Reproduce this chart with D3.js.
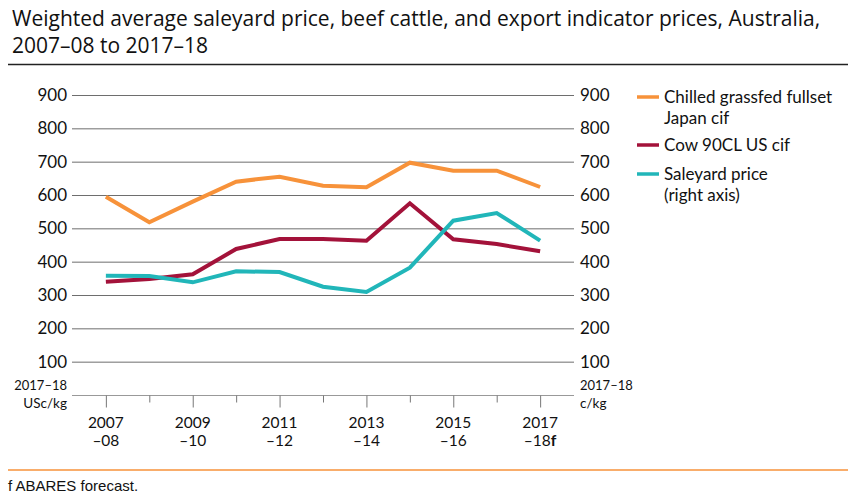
<!DOCTYPE html>
<html lang="en">
<head>
    <meta charset="utf-8">
    <title>Saleyard and export indicator prices</title>
    <style>
        body { margin: 0; background: #fff; }
        svg text { font-family: Lato, 'Open Sans', sans-serif; fill: #111; }
        .title { font-family: 'Liberation Sans Narrow', 'Open Sans', sans-serif; font-size: 21px; }
    </style>
    <script src="https://d3js.org/d3.v7.min.js" charset="utf-8"></script>
</head>
<body>
<svg id="chart" width="860" height="500"></svg>
<script type="text/javascript">
var years = ["2007\u201308", "2008\u201309", "2009\u201310", "2010\u201311", "2011\u201312", "2012\u201313",
             "2013\u201314", "2014\u201315", "2015\u201316", "2016\u201317", "2017\u201318"];
var japan = [595, 518, 580, 640, 655, 628, 623, 697, 673, 673, 624];
var cowUS = [340, 348, 362, 438, 468, 468, 463, 575, 467, 453, 431];
var saleyard = [358, 357, 338, 371, 369, 325, 309, 382, 523, 546, 463];
var yTicks = [100, 200, 300, 400, 500, 600, 700, 800, 900];
var tickTop = ["2007", "2009", "2011", "2013", "2015", "2017"];
var tickBottom = ["\u201308", "\u201310", "\u201312", "\u201314", "\u201316", "\u201318"];
var series = [
    {name: ["Chilled grassfed fullset", "Japan cif"], values: japan, color: "#f7923a"},
    {name: ["Cow 90CL US cif"], values: cowUS, color: "#a3123a"},
    {name: ["Saleyard price", "(right axis)"], values: saleyard, color: "#21b6b9"}
];

var svg = d3.select("#chart");

// title
svg.append("text").attr("class", "title").attr("x", 12).attr("y", 26)
    .text("Weighted average saleyard price, beef cattle, and export indicator prices, Australia,");
svg.append("text").attr("class", "title").attr("x", 12).attr("y", 53)
    .text("2007\u201308 to 2017\u201318");
svg.append("line").attr("x1", 8).attr("x2", 848).attr("y1", 64.5).attr("y2", 64.5)
    .attr("stroke", "#222").attr("stroke-width", 1.3);

var x = d3.scaleLinear().domain([-0.78, 10.78]).range([72, 574]);
var y = d3.scaleLinear().domain([0, 900]).range([395, 95]);

// grid
svg.append("g").selectAll("line").data(yTicks).join("line")
    .attr("x1", x(-0.78)).attr("x2", x(10.78))
    .attr("y1", d => y(d) + 0.5).attr("y2", d => y(d) + 0.5)
    .attr("stroke", "#6e6e6e").attr("stroke-width", 1);

svg.append("g").selectAll("text").data(yTicks).join("text")
    .attr("x", 67).attr("y", d => y(d) + 6).attr("text-anchor", "end")
    .style("font-size", "17px").text(d => d);
svg.append("g").selectAll("text").data(yTicks).join("text")
    .attr("x", 580).attr("y", d => y(d) + 6)
    .style("font-size", "17px").text(d => d);

// x axis
var xAxis = svg.append("g").attr("transform", "translate(0," + (y(0) + 0.5) + ")");
xAxis.append("line").attr("x1", x(-0.78)).attr("x2", x(10.78))
    .attr("stroke", "#999").attr("stroke-width", 1);
xAxis.selectAll("line.tick").data(years).join("line").attr("class", "tick")
    .attr("x1", (d, i) => x(i) + 0.5).attr("x2", (d, i) => x(i) + 0.5)
    .attr("y1", 0).attr("y2", (d, i) => i % 2 === 0 ? 12 : 7)
    .attr("stroke", "#777");
xAxis.selectAll("text.top").data(tickTop).join("text").attr("class", "top")
    .attr("x", (d, i) => x(i * 2)).attr("y", 32).attr("text-anchor", "middle")
    .style("font-size", "15.5px").text(d => d);
var bot = xAxis.selectAll("text.bot").data(tickBottom).join("text").attr("class", "bot")
    .attr("x", (d, i) => x(i * 2)).attr("y", 50).attr("text-anchor", "middle")
    .style("font-size", "15.5px").text(d => d);
bot.filter((d, i) => i === tickBottom.length - 1).append("tspan")
    .style("font-weight", "bold").text("f");

// unit labels
svg.append("text").attr("x", 67).attr("y", 390).attr("text-anchor", "end")
    .style("font-size", "13px").text("2017\u201318");
svg.append("text").attr("x", 67).attr("y", 408).attr("text-anchor", "end")
    .style("font-size", "13.5px").text("USc/kg");
svg.append("text").attr("x", 580).attr("y", 390)
    .style("font-size", "13px").text("2017\u201318");
svg.append("text").attr("x", 580).attr("y", 408)
    .style("font-size", "13.5px").text("c/kg");

// lines
var line = d3.line().x((d, i) => x(i)).y(d => y(d));
svg.append("g").selectAll("path").data(series).join("path")
    .attr("fill", "none").attr("stroke", d => d.color)
    .attr("stroke-width", 4).attr("stroke-linejoin", "miter")
    .attr("d", d => line(d.values));

// legend
var legY = [97, 145, 174];
var leg = svg.append("g").selectAll("g").data(series).join("g")
    .attr("transform", (d, i) => "translate(637," + legY[i] + ")");
leg.append("line").attr("x1", 0).attr("x2", 22).attr("y1", 0).attr("y2", 0)
    .attr("stroke", d => d.color).attr("stroke-width", 3.5);
leg.each(function(d) {
    var g = d3.select(this);
    d.name.forEach(function(s, j) {
        g.append("text").attr("x", 27).attr("y", 6 + j * 21)
            .style("font-size", "17px").text(s);
    });
});

// footer
svg.append("line").attr("x1", 8).attr("x2", 848).attr("y1", 470).attr("y2", 470)
    .attr("stroke", "#f7923a").attr("stroke-width", 1.3);
svg.append("text").attr("x", 8).attr("y", 491)
    .style("font-family", "'Liberation Sans Narrow', sans-serif").style("font-size", "15px")
    .text("f ABARES forecast.");
</script>
</body>
</html>
